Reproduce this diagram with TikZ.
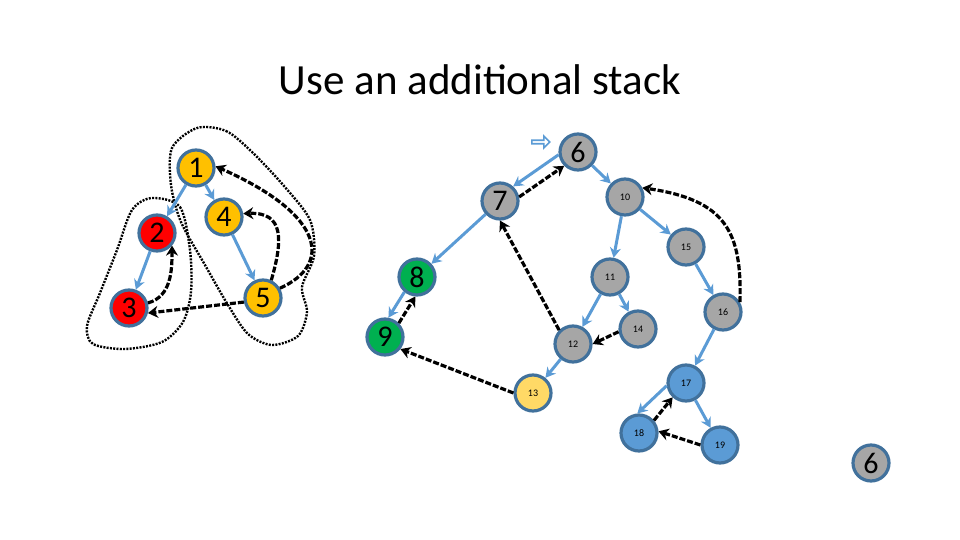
\documentclass[tikz,border=0pt]{standalone}
\usepackage{fontspec}
\setmainfont{Carlito}
\usetikzlibrary{arrows.meta,shapes.arrows}
\definecolor{rim}{HTML}{41719C}
\definecolor{treeblue}{HTML}{5B9BD5}
\definecolor{amber}{HTML}{FFC000}
\definecolor{stone}{HTML}{A6A6A6}
\definecolor{leaf}{HTML}{00B050}
\definecolor{pale}{HTML}{FFD966}
\definecolor{sky}{HTML}{5B9BD5}
\tikzset{
  vert/.style={circle,draw=rim,line width=3.2pt,minimum size=36pt,inner sep=0pt,
    font=\fontsize{30}{30}\selectfont},
  tiny/.style={vert,font=\fontsize{10}{10}\selectfont},
  tree/.style={draw=treeblue,line width=3pt,-{Stealth[length=10pt,width=11pt]}},
  back/.style={draw=black,line width=3.2pt,dash pattern=on 6pt off 2pt,
    -{Stealth[length=10pt,width=12pt]}},
  hull/.style={draw=black,line width=2.4pt,dash pattern=on 2pt off 1.3pt}
}

\begin{document}
\begin{tikzpicture}[x=1pt,y=-1pt]
  \useasboundingbox (0,0) rectangle (960,540);
  \node[font=\fontsize{43}{43}\selectfont] (title) at (480,80) {Use an additional stack};

  % first search
  \node[vert,fill=amber] (n1) at (196,168) {1};
  \node[vert,fill=red]   (n2) at (157,233) {2};
  \node[vert,fill=red]   (n3) at (129,308) {3};
  \node[vert,fill=amber] (n4) at (224,217) {4};
  \node[vert,fill=amber] (n5) at (263,298) {5};

  \draw[hull] plot[smooth cycle] coordinates {(152,198) (180,207) (190,250) (191,292)
    (183,322) (162,342) (125,349) (93,344) (87,326) (100,293) (117,250) (132,210)};
  \draw[hull] plot[smooth cycle] coordinates {(197,128) (226,131) (252,152) (284,186)
    (310,220) (314,256) (302,287) (307,312) (298,336) (272,345) (248,334) (228,305)
    (205,265) (181,222) (171,185) (172,148)};

  \foreach \a/\b in {n1/n2,n1/n4,n2/n3,n4/n5}
    \draw[tree] (\a) -- (\b);
  \draw[back] (n3.15) to[out=15,in=-90] (n2.-40);
  \draw[back] (n5.192) -- (n3.-15);
  \draw[back] (n5.65) .. controls (283,240) and (284,212) .. (n4.10);
  \draw[back] (n5.30) .. controls (332,265) and (326,215) .. (n1.5);

  % second search
  \node[single arrow,draw=treeblue,line width=1.6pt,minimum height=18pt,
    minimum width=12pt,single arrow head extend=2pt,inner sep=0pt] (hint) at (540,142) {};
  \node[vert,fill=stone]  (n6)  at (578,152) {6};
  \node[vert,fill=stone]  (n7)  at (500,201) {7};
  \node[vert,fill=leaf]   (n8)  at (417,277) {8};
  \node[vert,fill=leaf]   (n9)  at (385,337) {9};
  \node[tiny,fill=stone]  (n10) at (625,197) {10};
  \node[tiny,fill=stone]  (n11) at (610,277) {11};
  \node[tiny,fill=stone]  (n12) at (573,344) {12};
  \node[tiny,fill=pale]   (n13) at (533,393) {13};
  \node[tiny,fill=stone]  (n14) at (638,329) {14};
  \node[tiny,fill=stone]  (n15) at (686,247) {15};
  \node[tiny,fill=stone]  (n16) at (723,312) {16};
  \node[tiny,fill=sky]    (n17) at (686,383) {17};
  \node[tiny,fill=sky]    (n18) at (639,433) {18};
  \node[tiny,fill=sky]    (n19) at (720,445) {19};
  \node[vert,fill=stone]  (top) at (871,463) {6};

  \draw[tree] (n6.188) -- (n7.48);
  \draw[tree] (n8.-130) -- (n9.80);
  \draw[tree] (n17.-172) -- (n18.95);
  \foreach \a/\b in {n7/n8,n6/n10,n10/n11,n10/n15,n11/n12,n11/n14,n12/n13,
    n15/n16,n16/n17,n17/n19}
    \draw[tree] (\a) -- (\b);
  \draw[back] (n7.12) -- (n6.-135);
  \draw[back] (n9.45) -- (n8.-95);
  \draw[back] (n13.west) -- (n9.-38);
  \draw[back] (n12.135) -- (n7.-90);
  \draw[back] (n14.188) -- (n12.east);
  \draw[back] (n16.30) .. controls (742,232) and (726,200) .. (n10.28);
  \draw[back] (n18.40) -- (n17.-133);
  \draw[back] (n19.west) -- (n18.5);
\end{tikzpicture}
\end{document}
